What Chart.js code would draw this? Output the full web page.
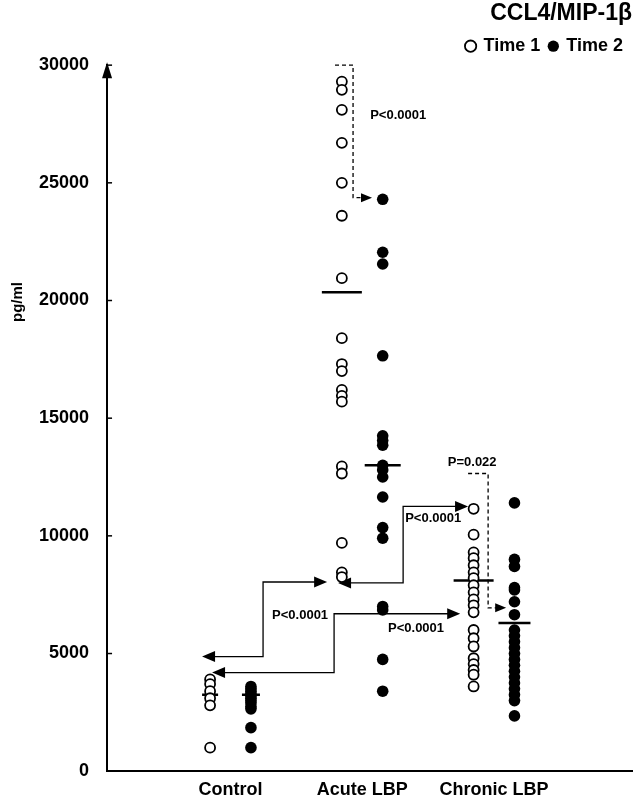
<!DOCTYPE html>
<html>
<head>
<meta charset="utf-8">
<script src="https://cdn.jsdelivr.net/npm/chart.js@4"></script>
<style>
  body { margin: 0; background: #fff; overflow: hidden; }
  #wrap { width: 634px; height: 800px; }
  canvas { display: block; }
</style>
</head>
<body>
<div id="wrap"><canvas id="chart"></canvas></div>
<script>
// groups on the x axis
const groups = ['Control', 'Acute LBP', 'Chronic LBP'];
const yTicks = [0, 5000, 10000, 15000, 20000, 25000, 30000];

// individual values (pg/ml)
const controlT1 = [3900, 3700, 3400, 3100, 2800, 1000];
const controlT2 = [3600, 3500, 3400, 3300, 3200, 3100, 3000, 2900, 2750, 2650, 1850, 1000];
const acuteT1 = [29300, 28950, 28100, 26700, 25000, 23600, 20950, 18400, 17300, 17000, 16200, 15950, 15700, 12950, 12650, 9700, 8450, 8250];
const acuteT2 = [24300, 22050, 21550, 17650, 14250, 14050, 13850, 13000, 12800, 12500, 11650, 10350, 9900, 7000, 6850, 4750, 3400];
const chronicT1 = [11150, 10050, 9300, 9050, 8750, 8450, 8200, 7900, 7600, 7300, 7050, 6750, 6000, 5650, 5300, 4800, 4550, 4300, 4100, 3600];
const chronicT2 = [11400, 9000, 8700, 7800, 7700, 7200, 6650, 6000, 5750, 5500, 5250, 5000, 4750, 4500, 4250, 4000, 3750, 3500, 3250, 3000, 2350];

// group means (horizontal bars)
const meansT1 = [3250, 20350, 8100];
const meansT2 = [3250, 13000, 6300];

// significance annotations, in data units
const dashedBrackets = [
  { x0: 1.793, x1: 1.930, yTop: 30000, yEnd: 24370, tip: 2.074, label: 'P<0.0001', lx: 2.06, ly: 27880, align: 'left' },
  { x0: 2.803, x1: 2.955, yTop: 12650, yEnd: 6940, tip: 3.092, label: 'P=0.022', lx: 2.834, ly: 13120, align: 'center' }
];
const stepArrows = [
  { xa: 0.784, ya: 4870, xc: 1.247, yb: 8040, xb: 1.733, label: 'P<0.0001', lx: 1.528, ly: 6600 },
  { xa: 0.860, ya: 4190, xc: 1.786, yb: 6690, xb: 2.743, label: 'P<0.0001', lx: 2.408, ly: 6050 },
  { xa: 1.816, ya: 8000, xc: 2.310, yb: 11250, xb: 2.803, label: 'P<0.0001', lx: 2.538, ly: 10750 }
];

const FONT = '"Liberation Sans", Arial, sans-serif';
const shift = 0.155;

function toPoints(lists, dx) {
  const pts = [];
  lists.forEach((vals, i) => vals.forEach(v => pts.push({ x: i + 1 + dx, y: v })));
  return pts;
}
function meanPoints(vals, dx) {
  return vals.map((v, i) => ({ x: i + 1 + dx, y: v }));
}

function arrowHead(ctx, x, y, dir, len, half) {
  ctx.beginPath();
  ctx.moveTo(x, y);
  ctx.lineTo(x - dir * len, y - half);
  ctx.lineTo(x - dir * len, y + half);
  ctx.closePath();
  ctx.fill();
}

const extras = {
  id: 'extras',
  beforeDatasetsDraw(chart) {
    const { ctx, scales: { x, y } } = chart;
    ctx.save();
    ctx.strokeStyle = '#000';
    ctx.fillStyle = '#000';
    ctx.font = 'bold 13px ' + FONT;
    ctx.textBaseline = 'middle';

    dashedBrackets.forEach(b => {
      const x0 = x.getPixelForValue(b.x0), x1 = x.getPixelForValue(b.x1);
      const yt = y.getPixelForValue(b.yTop), ye = y.getPixelForValue(b.yEnd);
      const tip = x.getPixelForValue(b.tip);
      ctx.lineWidth = 1.3;
      ctx.setLineDash([4, 3]);
      ctx.beginPath();
      ctx.moveTo(x0, yt);
      ctx.lineTo(x1, yt);
      ctx.lineTo(x1, ye);
      ctx.lineTo(tip - 10, ye);
      ctx.stroke();
      ctx.setLineDash([]);
      arrowHead(ctx, tip, ye, 1, 11, 4.5);
      ctx.textAlign = b.align;
      ctx.fillText(b.label, x.getPixelForValue(b.lx), y.getPixelForValue(b.ly));
    });

    stepArrows.forEach(a => {
      const xa = x.getPixelForValue(a.xa), ya = y.getPixelForValue(a.ya);
      const xc = x.getPixelForValue(a.xc), yb = y.getPixelForValue(a.yb);
      const xb = x.getPixelForValue(a.xb);
      ctx.lineWidth = 1.3;
      ctx.beginPath();
      ctx.moveTo(xa + 10, ya);
      ctx.lineTo(xc, ya);
      ctx.lineTo(xc, yb);
      ctx.lineTo(xb - 10, yb);
      ctx.stroke();
      arrowHead(ctx, xa, ya, -1, 13, 5.5);
      arrowHead(ctx, xb, yb, 1, 13, 5.5);
      ctx.textAlign = 'center';
      ctx.fillText(a.label, x.getPixelForValue(a.lx), y.getPixelForValue(a.ly));
    });
    ctx.restore();
  },
  afterDraw(chart) {
    const { ctx, chartArea, scales: { y } } = chart;
    const left = chartArea.left;
    ctx.save();
    ctx.strokeStyle = '#000';
    ctx.fillStyle = '#000';
    ctx.lineWidth = 1.5;
    // small inward tick marks
    yTicks.forEach(v => {
      if (v === 0) return;
      const py = y.getPixelForValue(v);
      ctx.beginPath();
      ctx.moveTo(left, py);
      ctx.lineTo(left + 5, py);
      ctx.stroke();
    });
    // arrow at the top of the value axis
    ctx.beginPath();
    ctx.moveTo(left, chartArea.top - 3);
    ctx.lineTo(left - 5, chartArea.top + 13);
    ctx.lineTo(left + 5, chartArea.top + 13);
    ctx.closePath();
    ctx.fill();
    // axis title
    ctx.translate(18, 302);
    ctx.rotate(-Math.PI / 2);
    ctx.font = 'bold 15px ' + FONT;
    ctx.textAlign = 'center';
    ctx.textBaseline = 'middle';
    ctx.fillText('pg/ml', 0, 0);
    ctx.restore();
  }
};

new Chart(document.getElementById('chart'), {
  type: 'scatter',
  data: {
    datasets: [
      {
        label: 'Time 1',
        data: toPoints([controlT1, acuteT1, chronicT1], -shift),
        pointStyle: 'circle',
        pointRadius: 5,
        pointBackgroundColor: '#fff',
        pointBorderColor: '#000',
        pointBorderWidth: 1.8,
        backgroundColor: '#fff',
        borderColor: '#000',
        borderWidth: 1.8
      },
      {
        label: 'Time 2',
        data: toPoints([controlT2, acuteT2, chronicT2], shift),
        pointStyle: 'circle',
        pointRadius: 5.8,
        pointBackgroundColor: '#000',
        pointBorderColor: '#000',
        pointBorderWidth: 0,
        backgroundColor: '#000',
        borderColor: '#000',
        borderWidth: 0
      },
      {
        label: 'mean1',
        data: meanPoints(meansT1, -shift),
        pointStyle: 'line',
        pointRadius: [8, 20, 20],
        pointBorderColor: '#000',
        pointBorderWidth: 2.5
      },
      {
        label: 'mean2',
        data: meanPoints(meansT2, shift),
        pointStyle: 'line',
        pointRadius: [9, 18, 16],
        pointBorderColor: '#000',
        pointBorderWidth: 2.5
      }
    ]
  },
  options: {
    responsive: true,
    maintainAspectRatio: false,
    animation: false,
    layout: { autoPadding: false, padding: { left: 21, right: 2, top: 0, bottom: 0 } },
    plugins: {
      tooltip: { enabled: false },
      title: {
        display: true,
        text: 'CCL4/MIP-1β',
        align: 'end',
        color: '#000',
        font: { family: FONT, size: 23, weight: 'bold', lineHeight: 1.05 },
        padding: { top: 2, bottom: 2 }
      },
      legend: {
        display: true,
        align: 'end',
        labels: {
          usePointStyle: true,
          boxWidth: 8,
          boxHeight: 8,
          padding: 9,
          color: '#000',
          font: { family: FONT, size: 18, weight: 'bold' },
          filter: item => item.text.startsWith('Time')
        }
      }
    },
    scales: {
      x: {
        type: 'linear',
        min: 0.063,
        max: 4.047,
        grid: { display: false, drawTicks: false },
        border: { display: true, color: '#000', width: 2 },
        afterBuildTicks: axis => { axis.ticks = groups.map((g, i) => ({ value: i + 1 })); },
        afterFit: axis => { axis.height -= 10; },
        ticks: {
          padding: 10,
          color: '#000',
          font: { family: FONT, size: 18, weight: 'bold', lineHeight: 1 },
          callback: v => groups[v - 1]
        }
      },
      y: {
        min: 0,
        max: 30000,
        grid: { display: false, drawTicks: false },
        border: { display: true, color: '#000', width: 2 },
        afterBuildTicks: axis => { axis.ticks = yTicks.map(v => ({ value: v })); },
        ticks: {
          padding: 18,
          color: '#000',
          font: { family: FONT, size: 18, weight: 'bold' },
          callback: v => String(v)
        }
      }
    }
  },
  plugins: [extras]
});
</script>
</body>
</html>
